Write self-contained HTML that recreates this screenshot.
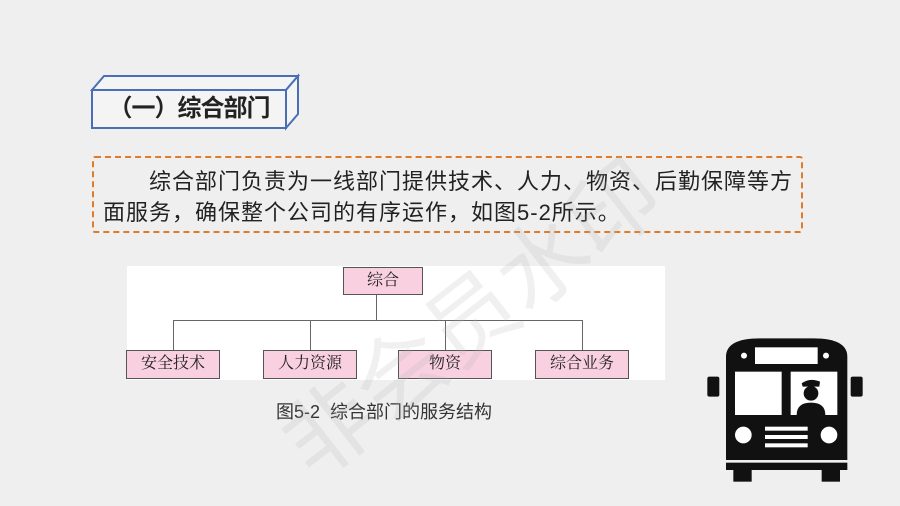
<!DOCTYPE html>
<html><head><meta charset="utf-8"><style>
body{margin:0;width:900px;height:506px;background:#efefef;position:relative;overflow:hidden;font-family:"Liberation Sans","Noto Sans CJK SC",sans-serif;}
.abs{position:absolute}
.box{position:absolute;background:#f8d0df;border:1.5px solid #555;box-sizing:border-box;font-family:"Liberation Serif","Noto Serif CJK SC",serif;font-size:16px;text-align:center;line-height:26px;color:#222}
.ln{position:absolute;background:#666}
</style></head><body>
<svg class="abs" style="left:0;top:0" width="900" height="506">
<polygon points="92,90 104,76 298,76 286,90" fill="#f4f4f4" stroke="#4a6fb5" stroke-width="2"/>
<polygon points="286,90 298,76 298,114 286,128" fill="#f4f4f4" stroke="#4a6fb5" stroke-width="2"/>
<rect x="92" y="90" width="194" height="38" fill="#f4f4f4" stroke="#4a6fb5" stroke-width="2"/>
</svg>
<div class="abs" style="left:92px;top:90px;width:194px;height:38px;line-height:38px;text-align:center;font-size:24px;font-weight:bold;color:#222;letter-spacing:-1px">（一）综合部门</div>
<div class="abs" style="left:92px;top:156px;width:711px;height:77px;border:2px dashed #e07b2a;box-sizing:border-box;border-radius:3px"></div>
<div class="abs" style="left:103px;top:166px;font-size:22px;line-height:31px;color:#222;white-space:nowrap;letter-spacing:1px">&emsp;&emsp;综合部门负责为一线部门提供技术、人力、物资、后勤保障等方<br>面服务，确保整个公司的有序运作，如图5-2所示。</div>
<div class="abs" style="left:127px;top:266px;width:538px;height:114px;background:#fff"></div>
<div class="ln" style="left:376px;top:295px;width:1px;height:25px"></div>
<div class="ln" style="left:173px;top:320px;width:410px;height:1px"></div>
<div class="ln" style="left:173px;top:320px;width:1px;height:31px"></div>
<div class="ln" style="left:310px;top:320px;width:1px;height:31px"></div>
<div class="ln" style="left:445px;top:320px;width:1px;height:31px"></div>
<div class="ln" style="left:582px;top:320px;width:1px;height:31px"></div>
<div class="box" style="left:343px;top:267px;width:80px;height:28px">综合</div>
<div class="box" style="left:126px;top:350px;width:94px;height:29px">安全技术</div>
<div class="box" style="left:263px;top:350px;width:94px;height:29px">人力资源</div>
<div class="box" style="left:398px;top:350px;width:94px;height:29px">物资</div>
<div class="box" style="left:535px;top:350px;width:94px;height:29px">综合业务</div>
<div class="abs" style="left:276px;top:398px;white-space:nowrap;font-size:18px;color:#333">图5-2&nbsp; 综合部门的服务结构</div>
<div class="abs" style="left:250px;top:400px;font-size:90px;color:rgba(180,180,180,0.2);transform:rotate(-38deg);transform-origin:left top;white-space:nowrap">非会员水印</div>
<svg class="abs" style="left:700px;top:320px" width="170" height="170" viewBox="0 0 510 510">
<rect x="22" y="170" width="36" height="60" rx="6" fill="#111"/>
<rect x="452" y="170" width="36" height="60" rx="6" fill="#111"/>
<path d="M78 420 V110 Q78 55 180 55 H340 Q442 55 442 110 V420 Z" fill="#111"/>
<rect x="78" y="428" width="364" height="22" fill="#111"/>
<rect x="100" y="450" width="55" height="35" fill="#111"/>
<rect x="365" y="450" width="55" height="35" fill="#111"/>
<rect x="165" y="82" width="188" height="50" fill="#fff"/>
<circle cx="132" cy="107" r="9" fill="#fff"/><circle cx="378" cy="107" r="9" fill="#fff"/>
<rect x="105" y="155" width="140" height="130" fill="#fff"/>
<rect x="272" y="155" width="140" height="130" fill="#fff"/>
<path d="M305 190 Q330 172 360 185 L358 200 H308 Z" fill="#111"/>
<circle cx="333" cy="220" r="22" fill="#111"/>
<path d="M290 285 Q290 248 333 248 Q376 248 376 285 Z" fill="#111"/>
<circle cx="130" cy="345" r="25" fill="#fff"/><circle cx="387" cy="345" r="25" fill="#fff"/>
<rect x="195" y="320" width="128" height="12" fill="#fff"/>
<rect x="195" y="345" width="128" height="12" fill="#fff"/>
<rect x="195" y="370" width="128" height="12" fill="#fff"/>
</svg>
</body></html>
